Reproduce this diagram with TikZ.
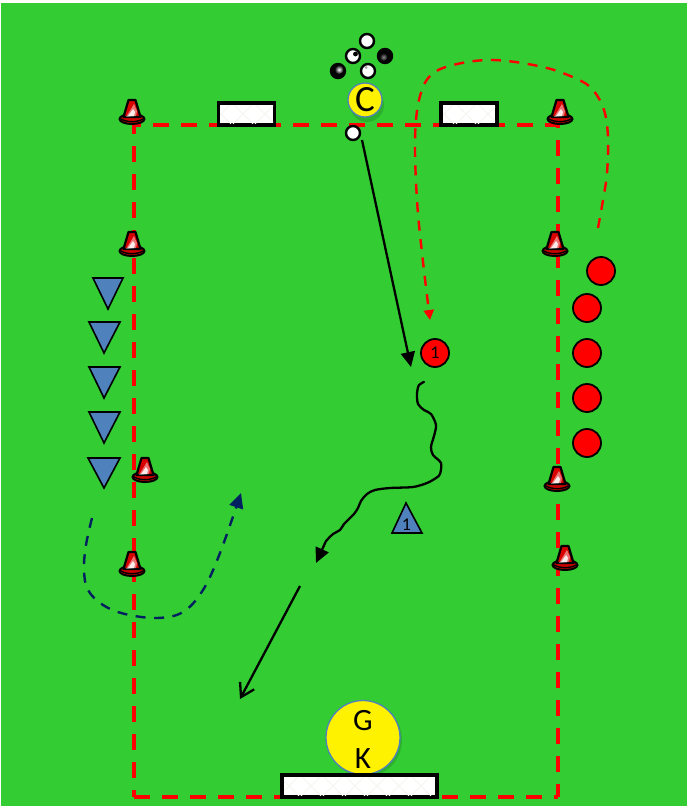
\documentclass[tikz,border=0pt]{standalone}
\usepackage{fontspec}
\setmainfont{Carlito}
\usetikzlibrary{arrows.meta,calc}
\definecolor{pitch}{HTML}{33CC33}
\definecolor{navy}{HTML}{002060}
\definecolor{steel}{HTML}{4F81BD}
\definecolor{mark}{HTML}{FF0000}
\definecolor{hatch}{HTML}{F6F5EF}
\tikzset{
  x=1pt,y=-1pt,
  boundary/.style={draw=mark,line width=3.5pt,dash pattern=on 16pt off 12pt},
  goalbox/.style={draw=black,line width=3.5pt,fill=white,line join=miter},
  ball/.style={circle,draw=black,line width=2.4pt,fill=white,minimum size=14pt,inner sep=0pt},
  redplayer/.style={circle,draw=black,line width=1.8pt,fill=mark,minimum size=28pt,inner sep=0pt},
  yellowplayer/.style={circle,draw=steel,line width=1.3pt,fill=yellow,inner sep=0pt},
  softshadow/.style={fill=black,opacity=.13},
  bluetri/.style={draw=black,line width=1.6pt,fill=steel,line join=miter},
  run/.style={draw=black,line width=2.3pt,line join=round,-{Triangle[length=15pt,width=14pt]}},
  reddash/.style={draw=mark,line width=2.4pt,dash pattern=on 10pt off 8.5pt,-{Triangle[length=10pt,width=10pt]}},
  bluedash/.style={draw=navy,line width=2.4pt,dash pattern=on 10pt off 8.5pt,-{Triangle[length=15pt,width=14pt]}},
  cone/.pic={
    \draw[black,line width=2pt,fill=mark!80!black] (0,-1) ellipse [x radius=12.5pt,y radius=5pt];
    \draw[black,line width=2.2pt,fill=mark!85!black,line join=round] (-3.5,-20) -- (3.5,-20) -- (8.5,-3) -- (-8.5,-3) -- cycle;
    \fill[white,opacity=.45] (-6,-3) -- (2,-16) -- (5,-9) -- (4,-4) -- cycle;
    \fill[white,opacity=.85] (-4,-4) -- (1,-11) -- (3,-8) -- (2,-4) -- cycle;
    \draw[black,line width=1.4pt] (-11,-1) .. controls (-5,2.5) and (5,2.5) .. (11,-1);
  }
}
\begin{document}
\begin{tikzpicture}
\useasboundingbox (0,0) rectangle (687,806);
\fill[white] (0,0) rectangle (687,806);
\fill[pitch] (1,3) rectangle (687,806);

% pitch boundary
\coordinate (tl) at (134,125);
\coordinate (tr) at (558,125);
\coordinate (bl) at (134,797);
\coordinate (br) at (558,797);
\draw[boundary,dash phase=9pt] (tl) -- (tr);
\draw[boundary,dash phase=7pt] (tl) -- (bl);
\draw[boundary,dash phase=13pt] (tr) -- (br);
\draw[boundary] (bl) -- (br);

% goals
\draw[goalbox] (218.5,103) rectangle (274.5,125);
\begin{scope}
  \clip (220,105) rectangle (273,123);
  \foreach \k in {0,1,2} {
    \draw[hatch,line width=.8pt] (210+\k*22,103) -- (232+\k*22,125);
    \draw[hatch,line width=.8pt] (232+\k*22,103) -- (210+\k*22,125);
  }
\end{scope}
\draw[goalbox] (441,103) rectangle (497,125);
\begin{scope}
  \clip (443,105) rectangle (495,123);
  \foreach \k in {0,1,2} {
    \draw[hatch,line width=.8pt] (433+\k*22,103) -- (455+\k*22,125);
    \draw[hatch,line width=.8pt] (455+\k*22,103) -- (433+\k*22,125);
  }
\end{scope}

% cones
\foreach \cx/\cy in {132/120,560/120,132/252,555/252,145/478,132/572,557/487,565/566}
  \pic at (\cx,\cy) {cone};

% balls
\node[ball] (b1) at (367,41) {};
\node[ball] (b2) at (353,56) {};
\node[ball,fill=black] (b3) at (385,56) {};
\node[ball,fill=black] (b4) at (338,71) {};
\node[ball] (b5) at (368,71) {};
\node[ball] (b6) at (353,133) {};
\fill[black] (355.5,54) circle (2.4);
\shade[inner color=black!45,outer color=black] (383.5,57) circle (4);
\shade[inner color=white,outer color=black] (339,69.5) circle (4.5);
\fill[black!35] (366,67.5) circle (1.5);

% coach and keeper
\fill[softshadow] (367,105) circle (17);
\node[yellowplayer,minimum size=34pt,font=\fontsize{37}{37}\selectfont] (coach) at (365,100) {\raisebox{-4pt}{C}};
\fill[softshadow] (365,740) circle (37);
\node[yellowplayer,minimum size=74pt] (gk) at (363,737.5) {};
\node[align=center,inner sep=0pt,font=\fontsize{31}{38}\selectfont] (gktext) at (363,739) {G\\K};
\draw[goalbox] (282,775) rectangle (437,797);
\begin{scope}
  \clip (284,777) rectangle (435,795);
  \foreach \k in {0,...,6} {
    \draw[hatch,line width=.8pt] (278+\k*22,775) -- (300+\k*22,797);
    \draw[hatch,line width=.8pt] (300+\k*22,775) -- (278+\k*22,797);
  }
\end{scope}

% red players
\node[redplayer] (r1) at (601,271) {};
\node[redplayer] (r2) at (587,308) {};
\node[redplayer] (r3) at (587,353) {};
\node[redplayer] (r4) at (587,398) {};
\node[redplayer] (r5) at (587,443) {};
\node[redplayer,font=\fontsize{18}{18}\selectfont] (r0) at (435,353) {1};

% blue players
\draw[bluetri] (93,278) -- (123,278) -- (108,309) -- cycle;
\draw[bluetri] (89,322) -- (120,322) -- (104,353) -- cycle;
\draw[bluetri] (89,367) -- (120,367) -- (104,398) -- cycle;
\draw[bluetri] (89,412) -- (120,412) -- (104,443) -- cycle;
\draw[bluetri] (88,458) -- (120,458) -- (104,488) -- cycle;
\draw[bluetri] (406,503) -- (422,533) -- (392,533) -- cycle;
\node[font=\fontsize{18}{18}\selectfont,inner sep=0pt] (b0) at (406.5,525) {1};

% runs
\coordinate (passS) at (362,140);
\coordinate (passE) at (411,367);
\draw[run] (passS) -- (passE);

\coordinate (dribM) at (326,541);
\coordinate (dribE) at (316,563);
\draw[draw=black,line width=2.3pt,line join=round,line cap=round] plot[smooth,tension=.5] coordinates {
 (424,382) (419,385) (417,393) (418,404) (424,410) (431,414) (436,425) (434,436) (431,447) (433,455) (441,463) (440,474) (436,478) (427,483) (413,487) (390,488) (375,490) (367,494) (361,501) (358,508) (354,514) (350,518) (344,524) (340,530) (333,534) (326,541)};
\draw[run] (dribM) -- (dribE);

\coordinate (shotS) at (300,586);
\coordinate (shotE) at (240,699);
\draw[draw=black,line width=2.3pt,-{Straight Barb[length=13pt,width=16pt,line width=2.3pt]}] (shotS) -- (shotE);

\draw[reddash] plot[smooth,tension=.6] coordinates {
 (598,228) (603,200) (607,173) (608,137) (604,110) (593,90) (577,79) (543,67) (493,60) (453,65) (430,76) (419,100) (415,140) (417,200) (422,253) (430,320)};
\draw[bluedash] plot[smooth,tension=.6] coordinates {
 (92,518) (86,545) (84,570) (88,590) (103,605) (125,614) (157,618) (183,612) (203,590) (220,553) (241,493)};
\end{tikzpicture}
\end{document}
